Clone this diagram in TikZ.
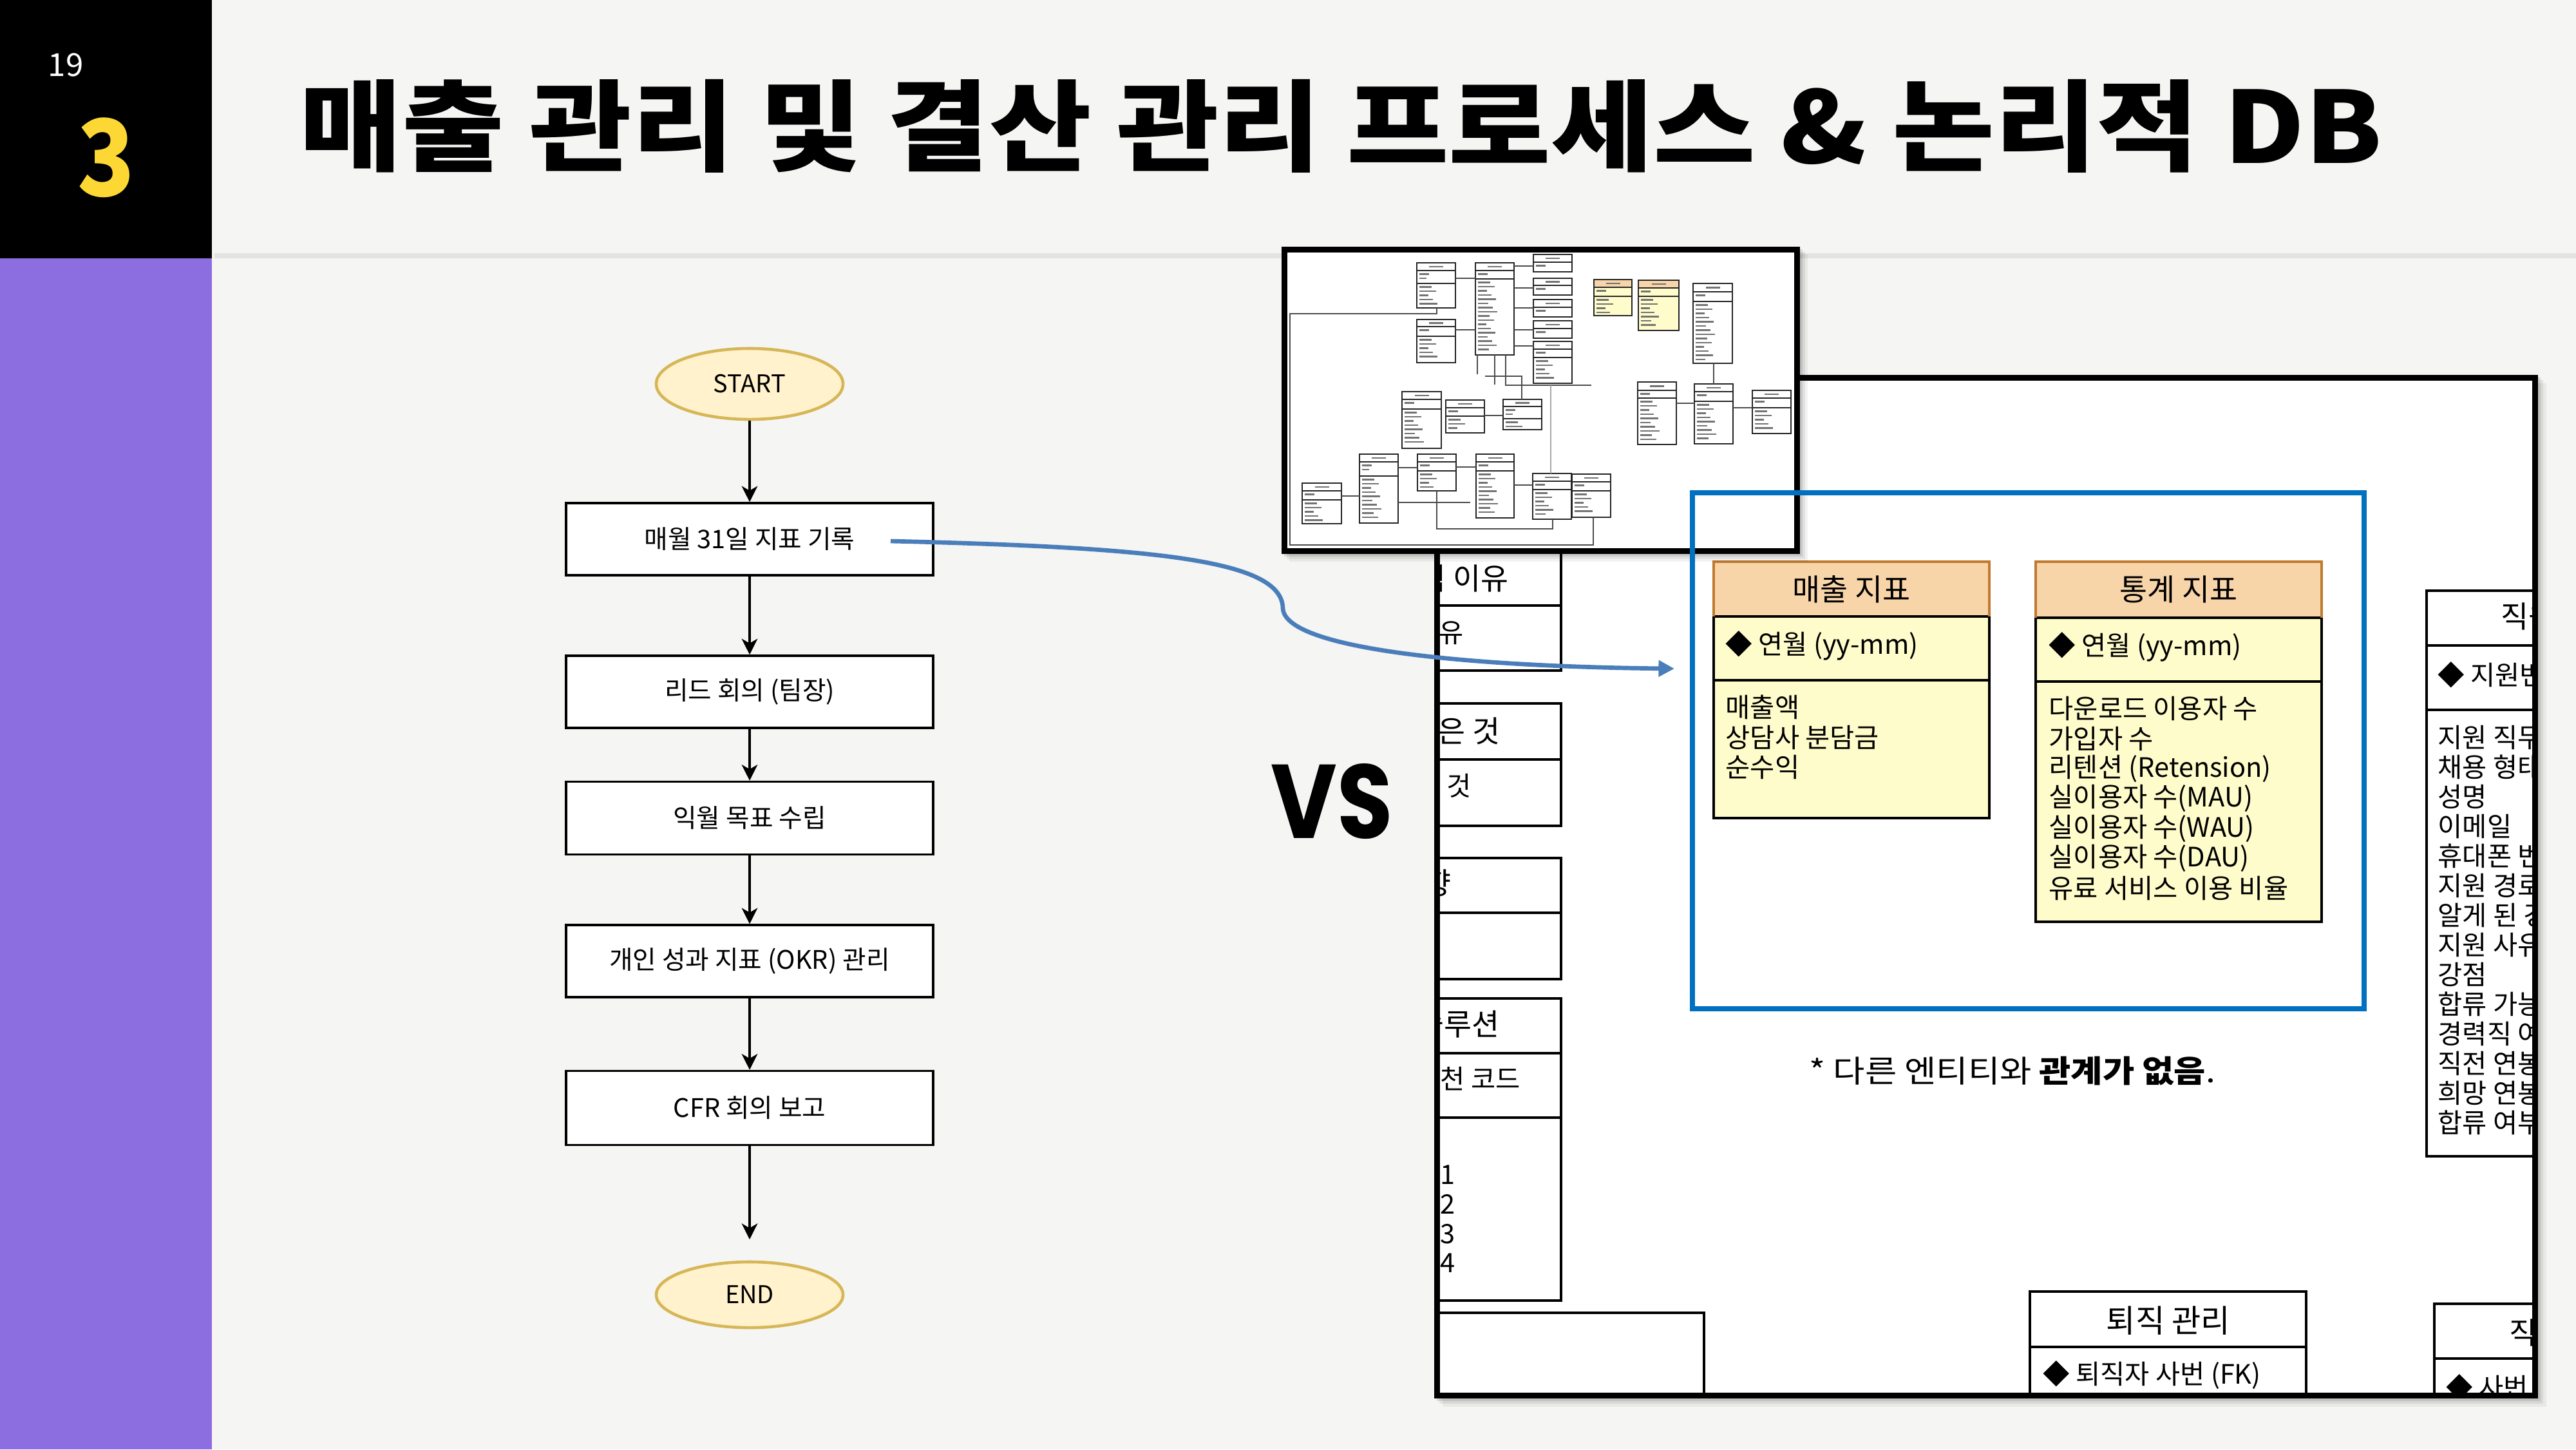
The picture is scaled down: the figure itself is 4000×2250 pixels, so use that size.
\documentclass[tikz,border=0pt]{standalone}
\usepackage{fontspec}
\usepackage{graphicx}
\usetikzlibrary{shapes.geometric,arrows.meta,calc}
\newfontfamily\krfont{Noto Sans CJK KR}
\newfontfamily\krblack{Noto Sans CJK KR Black}
\newfontfamily\popfont{Poppins}
\definecolor{bgc}{HTML}{F5F5F3}
\definecolor{purp}{HTML}{8C6EE0}
\definecolor{yel}{HTML}{FDD835}
\definecolor{sepc}{HTML}{E3E3E3}
\definecolor{termfill}{HTML}{FFF2CC}
\definecolor{termline}{HTML}{D6B656}
\definecolor{blc}{HTML}{4A7EBB}
\definecolor{blueone}{HTML}{0070C0}
\definecolor{hdrfill}{HTML}{F8D5A9}
\definecolor{hdrborder}{HTML}{C07A30}
\definecolor{bodyfill}{HTML}{FFFCCB}
\newcommand\fsz[1]{\fontsize{#1}{#1}\selectfont}
\tikzset{
 fcbox/.style={draw=black, line width=1pt, fill=white, minimum width=5.70cm, inner sep=0pt, font=\krfont\fsz{11.3pt}},
 term/.style={ellipse, draw=termline, fill=termfill, line width=1.3pt, minimum width=2.90cm, inner sep=0pt, font=\krfont\fsz{10.8pt}},
 flowarrow/.style={line width=1pt, -{Stealth[length=7pt,width=7pt,inset=2pt]}},
 erdhdr/.style={inner sep=0pt, font=\krfont\fsz{13.3pt}},
 erdtxt/.style={inner sep=0pt, anchor=west, font=\krfont\fsz{11.8pt}},
 erdline/.style={draw=black, line width=1pt},
 hdrline/.style={draw=hdrborder, line width=1pt},
 inbox/.style={draw=black!85, line width=0.5pt},
 intext/.style={draw=black!55, line width=0.8pt},
 inconn/.style={draw=black!70, line width=0.5pt},
}
\newcommand\inent[7]{%
  \filldraw[inbox,#7] (#1,#3) rectangle (#2,#4);
  \draw[inbox] (#1,#5) -- (#2,#5);
  \draw[inbox] (#1,#6) -- (#2,#6);
  \draw[intext] ({(#1+#2)/2-11},{(#3+#5)/2}) -- ++(22,0);
  \pgfmathtruncatemacro\nk{(#6-#5-3)/6.5}%
  \ifnum\nk>0 \foreach \k in {1,...,\nk}{\draw[intext] ({#1+4},{#5+\k*6.5-1}) -- ++({10+mod(\k*5,9)},0);}\fi
  \pgfmathtruncatemacro\nb{(#4-#6-3)/6.5}%
  \ifnum\nb>0 \foreach \k in {1,...,\nb}{\draw[intext] ({#1+4},{#6+\k*6.5-1}) -- ++({12+mod(\k*7,19)},0);}\fi
}
\begin{document}
\begin{tikzpicture}
\begin{scope}[x=0.01cm,y=-0.01cm]
\useasboundingbox (0,0) rectangle (4000,2250);
% background
\fill[bgc] (0,0) rectangle (4000,2250);
\fill[black] (0,0) rectangle (329,401);
\fill[purp] (0,401) rectangle (329,2250);
\fill[sepc] (333,393) rectangle (4000,401);
\node[text=white, inner sep=0pt, font=\krfont\fsz{14pt}] (pagenum) at (102,101) {19};
\node[anchor=north west, inner sep=0pt, text=yel] (three) at (120,182) {\resizebox*{0.89cm}{1.24cm}{\krblack 3}};
\node[anchor=north west, inner sep=0pt] (title) at (465,123) {\resizebox*{32.31cm}{1.45cm}{\krblack 매출 관리 및 결산 관리 프로세스 \& 논리적 DB}};

% flowchart
\node[term, minimum height=1.10cm] (start) at (1164,596) {START};
\node[fcbox, minimum height=1.12cm] (b1) at (1164,837) {매월 31일 지표 기록};
\node[fcbox, minimum height=1.12cm] (b2) at (1164,1074) {리드 회의 (팀장)};
\node[fcbox, minimum height=1.13cm] (b3) at (1164,1270) {익월 목표 수립};
\node[fcbox, minimum height=1.12cm] (b4) at (1164,1492) {개인 성과 지표 (OKR) 관리};
\node[fcbox, minimum height=1.15cm] (b5) at (1164,1720) {CFR 회의 보고};
\node[term, minimum height=1.02cm] (end) at (1164,2010) {END};
\coordinate (endin) at (1164,1924);
\draw[flowarrow] (start.south) -- (b1.north);
\draw[flowarrow] (b1.south) -- (b2.north);
\draw[flowarrow] (b2.south) -- (b3.north);
\draw[flowarrow] (b3.south) -- (b4.north);
\draw[flowarrow] (b4.south) -- (b5.north);
\draw[flowarrow] (b5.south) -- (endin);

% VS
\node[anchor=north west, inner sep=0pt] (vs) at (1973,1185) {\resizebox*{1.89cm}{1.17cm}{\popfont\bfseries VS}};

% ERD panel
\foreach \s/\o in {4/0.10,8/0.07,13/0.05} \fill[black,opacity=\o] ({2227+\s},{582+\s}) rectangle ({3941+\s},{2171+\s});
\fill[white] (2227,582) rectangle (3941,2171);
\begin{scope}
\clip (2232,587) rectangle (3936,2166);
% left cut boxes
\draw[erdline] (2150,800) -- (2424,800) -- (2424,1041) -- (2150,1041);
\draw[erdline] (2150,940) -- (2424,940);
\draw[erdline] (2150,1092) rectangle (2424,1282); \draw[erdline] (2150,1179) -- (2424,1179);
\draw[erdline] (2150,1332) rectangle (2424,1520); \draw[erdline] (2150,1417) -- (2424,1417);
\draw[erdline] (2150,1550) rectangle (2424,2019); \draw[erdline] (2150,1635) -- (2424,1635); \draw[erdline] (2150,1735) -- (2424,1735);
\draw[erdline] (2150,2038) rectangle (2646,2300);
\node[erdhdr, anchor=west] (la) at (2202,898) {직 이유};
\node[erdtxt] (lb) at (2234,983) {유};
\node[erdhdr, anchor=west] (lc) at (2232,1135) {은 것};
\node[erdtxt] (ld) at (2246,1220) {것};
\node[erdhdr, anchor=west] (le) at (2210,1371) {향};
\node[erdhdr, anchor=west] (lf) at (2199,1590) {솔루션};
\node[erdtxt] (lg) at (2236,1675) {천 코드};
\foreach \t [count=\i from 0] in {1,2,3,4} \node[erdtxt] at (2236,{1824+45.7*\i}) {\t};
% right box F
\draw[erdline] (3768,917) rectangle (4100,1795);
\draw[erdline] (3768,1002) -- (4100,1002);
\draw[erdline] (3768,1102) -- (4100,1102);
\node[erdhdr, anchor=west] (fh) at (3883,957) {직원 채용};
\node[erdtxt] (fk) at (3785,1048) {◆ 지원번호};
\foreach \t [count=\i from 0] in {지원 직무,채용 형태,성명,이메일,휴대폰 번호,지원 경로,알게 된 경로,지원 사유,강점,합류 가능일,경력직 여부,직전 연봉,희망 연봉,합류 여부}
  \node[erdtxt] at (3785,{1145+46*\i}) {\t};
% box G
\draw[erdline] (3152,2005) rectangle (3581,2300);
\draw[erdline] (3152,2091) -- (3581,2091);
\node[inner sep=0pt, font=\krfont\fsz{14pt}] (gh) at (3367,2050) {퇴직 관리};
\node[erdtxt] (gk) at (3172,2135) {◆ 퇴직자 사번 (FK)};
% box H
\draw[erdline] (3780,2024) rectangle (4100,2300);
\draw[erdline] (3780,2109) -- (4100,2109);
\node[erdhdr, anchor=west] (hh) at (3896,2069) {직원 정보};
\node[erdtxt] (hk) at (3798,2154) {◆ 사번};
% 매출 지표
\fill[hdrfill] (2661,872) rectangle (3089,957);
\fill[bodyfill] (2661,957) rectangle (3089,1270);
\draw[erdline] (2661,957) -- (2661,1270) -- (3089,1270) -- (3089,957);
\draw[erdline] (2661,957) -- (3089,957);
\draw[erdline] (2661,1056) -- (3089,1056);
\draw[hdrline] (2661,957) -- (2661,872) -- (3089,872) -- (3089,957);
\node[erdhdr] (mh) at (2875,915) {매출 지표};
\node[erdtxt] (mk) at (2679,1002) {◆ 연월 (yy-mm)};
\foreach \t [count=\i from 0] in {매출액,상담사 분담금,순수익}
  \node[erdtxt] at (2679,{1098+46.5*\i}) {\t};
% 통계 지표
\fill[hdrfill] (3161,872) rectangle (3605,959);
\fill[bodyfill] (3161,959) rectangle (3605,1431);
\draw[erdline] (3161,959) -- (3161,1431) -- (3605,1431) -- (3605,959);
\draw[erdline] (3161,959) -- (3605,959);
\draw[erdline] (3161,1058) -- (3605,1058);
\draw[hdrline] (3161,959) -- (3161,872) -- (3605,872) -- (3605,959);
\node[erdhdr] (th) at (3383,915) {통계 지표};
\node[erdtxt] (tk) at (3181,1004) {◆ 연월 (yy-mm)};
\foreach \t [count=\i from 0] in {다운로드 이용자 수,가입자 수,리텐션 (Retension),실이용자 수(MAU),실이용자 수(WAU),실이용자 수(DAU),유료 서비스 이용 비율}
  \node[erdtxt] at (3181,{1100+46.5*\i}) {\t};
% footnote
\node[inner sep=0pt, font=\krfont\fsz{13.6pt}] (note) at (3125,1663) {\scalebox{1.12}[1]{* 다른 엔티티와 {\bfseries 관계가 없음}.}};
\end{scope}
\draw[line width=2.6pt] (2231.5,586.5) rectangle (3936.5,2166.5);

% inset screenshot
\foreach \s/\o in {4/0.10,8/0.07,12/0.05} \fill[black,opacity=\o] ({1990+\s},{383+\s}) rectangle ({2795+\s},{860+\s});
\fill[white] (1990,383) rectangle (2795,860);
\begin{scope}
\clip (1995,388) rectangle (2790,855);
\fill[bodyfill] (2475,434) rectangle (2534,490);
\fill[hdrfill] (2475,434) rectangle (2534,446);
\fill[bodyfill] (2544,435) rectangle (2607,513);
\fill[hdrfill] (2544,435) rectangle (2607,447);
\inent{2200}{2260}{408}{478}{420}{440}{fill=white}
\inent{2291}{2351}{408}{551}{420}{433}{fill=white}
\inent{2381}{2441}{395}{422}{407}{422}{fill=white}
\inent{2381}{2441}{432}{458}{443}{458}{fill=white}
\inent{2381}{2441}{465}{492}{477}{492}{fill=white}
\inent{2381}{2441}{498}{525}{510}{525}{fill=white}
\inent{2381}{2441}{530}{595}{542}{555}{fill=white}
\inent{2200}{2260}{496}{563}{507}{522}{fill=white}
\inent{2475}{2534}{434}{490}{446}{460}{fill=none}
\inent{2544}{2607}{435}{513}{447}{460}{fill=none}
\inent{2629}{2690}{440}{564}{453}{468}{fill=white}
\inent{2543}{2603}{593}{690}{606}{618}{fill=white}
\inent{2631}{2691}{596}{689}{608}{623}{fill=white}
\inent{2721}{2781}{606}{673}{618}{633}{fill=white}
\inent{2177}{2238}{608}{696}{620}{635}{fill=white}
\inent{2245}{2305}{621}{672}{633}{646}{fill=white}
\inent{2334}{2394}{620}{667}{631}{650}{fill=white}
\inent{2022}{2083}{750}{813}{762}{776}{fill=white}
\inent{2111}{2171}{705}{812}{717}{739}{fill=white}
\inent{2201}{2261}{705}{762}{717}{731}{fill=white}
\inent{2292}{2351}{705}{804}{717}{731}{fill=white}
\inent{2380}{2440}{735}{806}{747}{760}{fill=white}
\inent{2441}{2501}{736}{803}{748}{762}{fill=white}
\draw[inconn] (2231,478) -- (2231,487) -- (2003,487) -- (2003,846) -- (2474,846) -- (2474,803);
\draw[inconn] (2260,432) -- (2291,432);
\draw[inconn] (2260,512) -- (2291,512);
\foreach \yy in {413,447,478,512,537} \draw[inconn] (2351,\yy) -- (2381,\yy);
\draw[inconn] (2294,551) -- (2294,581);
\draw[inconn] (2321,551) -- (2321,597);
\draw[inconn] (2306,584) -- (2363,584) -- (2363,620);
\draw[inconn] (2338,551) -- (2338,598) -- (2471,598);
\draw[inconn, draw=black!35] (2408,598) -- (2408,735);
\draw[inconn] (2661,564) -- (2661,596);
\draw[inconn] (2603,626) -- (2631,626);
\draw[inconn] (2691,633) -- (2721,633);
\draw[inconn] (2305,645) -- (2334,645);
\draw[inconn] (2083,770) -- (2111,770);
\draw[inconn] (2171,726) -- (2201,726);
\draw[inconn] (2261,725) -- (2292,725);
\draw[inconn] (2171,780) -- (2283,780);
\draw[inconn] (2351,753) -- (2380,753);
\draw[inconn] (2231,762) -- (2231,821) -- (2411,821) -- (2411,806);
\end{scope}
\draw[line width=2.6pt] (1994.5,387.5) rectangle (2790.5,855.5);

% blue highlight rectangle
\draw[blueone, line width=2.3pt] (2628,765) rectangle (3671,1566);

% blue connector
\coordinate (bstart) at (1383,840);
\coordinate (bend) at (2600,1038);
\draw[blc, line width=1.9pt, -{Triangle[length=7pt,width=7pt]}] (bstart) .. controls (1800,850) and (1990,870) .. (1992,944) .. controls (1994,1010) and (2300,1035) .. (bend);
\end{scope}
\end{tikzpicture}
\end{document}
